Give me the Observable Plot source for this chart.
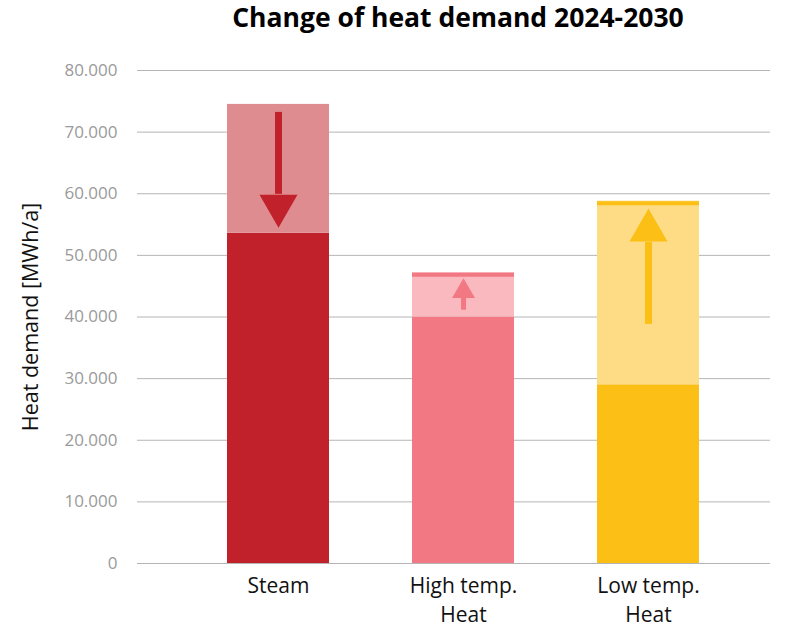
<!DOCTYPE html>
<html>
<head>
<meta charset="utf-8">
<script src="https://cdn.jsdelivr.net/npm/d3@7"></script>
<script src="https://cdn.jsdelivr.net/npm/@observablehq/plot@0.6"></script>
<style>
  html, body { margin: 0; padding: 0; background: #fff; overflow: hidden; }
  #wrap { position: relative; width: 790px; height: 630px; }
  #title { position: absolute; top: 4px; left: 126px; width: 664px; text-align: center;
           font-family: "Open Sans", sans-serif; font-weight: 700; font-size: 26.5px; line-height: 26.5px; color: #000; }
  #chart { position: absolute; top: 0; left: 0; }
</style>
</head>
<body>
<div id="wrap">
  <div id="title">Change of heat demand 2024-2030</div>
  <div id="chart"></div>
</div>
<script>
// ---- data ----
const categories = ["Steam", "High temp.\nHeat", "Low temp.\nHeat"];
const demand2024 = [74500, 40000, 29000];
const demand2030 = [53600, 47200, 58800];
const arrowStart = [73200, 41100, 38800];
const arrowHeadBase = [59900, 43000, 52100];
const arrowTip = [54500, 46300, 57600];
const darkColors = ["#c1212a", "#f27983", "#fbbf15"];
const lightColors = ["#df8c90", "#f9b9be", "#fddc85"];
const yTicks = [0, 10000, 20000, 30000, 40000, 50000, 60000, 70000, 80000];
const yLabel = "Heat demand [MWh/a]";

const rows = categories.map((c, i) => ({
  category: c,
  low: Math.min(demand2024[i], demand2030[i]),
  high: Math.max(demand2024[i], demand2030[i]),
  increase: demand2030[i] > demand2024[i],
  dark: darkColors[i],
  light: lightColors[i],
  start: arrowStart[i],
  headBase: arrowHeadBase[i],
  tip: arrowTip[i],
  headWidth: i === 1 ? 23 : 38,
  shaftWidth: i === 1 ? 5 : 7
}));

const fmt = d3.formatLocale({decimal: ",", thousands: ".", grouping: [3], currency: ["", ""]}).format(",");

const heads = rows.map(d => {
  const h = d.headWidth * Math.sqrt(3) / 2;
  const size = Math.sqrt(3) * d.headWidth * d.headWidth / 4;
  return Plot.dot([d], {
    x: "category", y: "tip",
    symbol: "triangle",
    r: Math.sqrt(size / Math.PI),
    fill: d.dark,
    rotate: d.increase ? 0 : 180,
    dy: d.increase ? 2 * h / 3 : -2 * h / 3
  });
});

const chart = Plot.plot({
  width: 790,
  height: 630,
  marginTop: 70,
  marginBottom: 67,
  marginLeft: 137,
  marginRight: 20,
  style: {fontFamily: "Open Sans, sans-serif", background: "transparent", overflow: "visible"},
  x: {domain: categories, paddingInner: 0.45, paddingOuter: 0.427, align: 0.56, axis: null},
  y: {domain: [0, 80000], axis: null},
  color: {type: "identity"},
  marks: [
    Plot.gridY(yTicks, {stroke: "#b5b5b5", strokeOpacity: 1, strokeWidth: 1}),
    Plot.axisY(yTicks, {tickSize: 0, tickPadding: 20, tickFormat: fmt, fontSize: 17, fill: "#9a9a9a", label: null}),
    Plot.barY(rows, {x: "category", y1: 0, y2: "low", fill: "dark"}),
    Plot.barY(rows, {x: "category", y1: "low", y2: "high", fill: "light"}),
    Plot.tickY(rows.filter(d => d.increase), {x: "category", y: "high", stroke: "dark", strokeWidth: 4, dy: 2}),
    Plot.ruleX(rows, {x: "category", y1: "start", y2: "headBase", stroke: "dark", strokeWidth: "shaftWidth"}),
    ...heads,
    Plot.text(rows, {x: "category", text: "category", frameAnchor: "bottom", lineAnchor: "top", dy: 8, lineHeight: 1.42, fontSize: 21, fill: "#111"}),
    Plot.text([yLabel], {frameAnchor: "left", dx: -106, rotate: -90, fontSize: 21.5, fill: "#111", textAnchor: "middle"})
  ]
});
document.getElementById("chart").appendChild(chart);
</script>
</body>
</html>
